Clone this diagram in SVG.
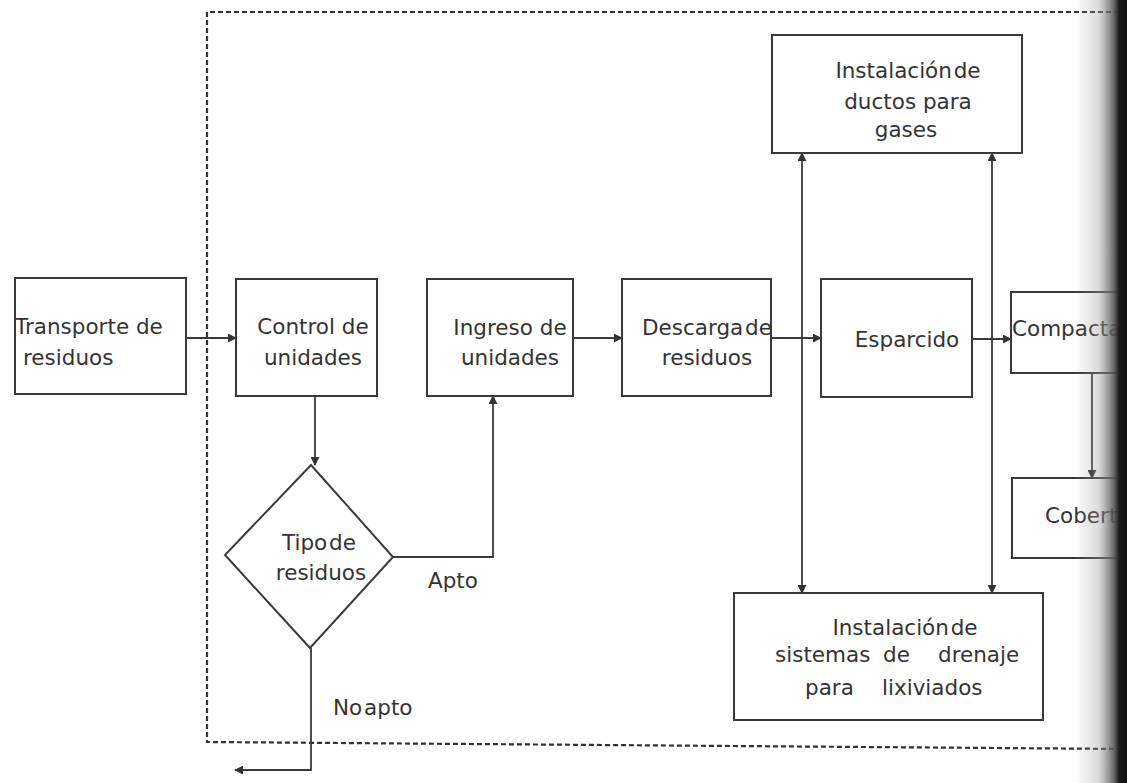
<svg xmlns="http://www.w3.org/2000/svg" width="1127" height="783" viewBox="0 0 1127 783">
<style>
.box{fill:#fff;stroke:#3a3a3a;stroke-width:2}
.t{font-family:"DejaVu Sans",Verdana,sans-serif;font-size:21.5px;fill:#333}
.c{text-anchor:middle}
.ln{fill:none;stroke:#3a3a3a;stroke-width:1.8}
.dash{fill:none;stroke:#333;stroke-width:2.2;stroke-dasharray:5 3}
</style>
<defs>
<marker id="ah" viewBox="0 0 10 10" refX="9" refY="5" markerWidth="9" markerHeight="9" markerUnits="userSpaceOnUse" orient="auto-start-reverse">
<path d="M0,0 L10,5 L0,10 Z" fill="#333"/>
</marker>
<linearGradient id="shade" x1="0" y1="0" x2="1" y2="0">
<stop offset="0" stop-color="#888" stop-opacity="0"/>
<stop offset="0.45" stop-color="#999" stop-opacity="0.35"/>
<stop offset="0.75" stop-color="#555" stop-opacity="0.9"/>
<stop offset="0.85" stop-color="#1a1a1a"/>
<stop offset="1" stop-color="#111"/>
</linearGradient>
</defs>
<rect width="1127" height="783" fill="#fff"/>
<path class="dash" d="M1127,12 H207 V742 L1127,749"/>

<g id="connectors">
<path class="ln" d="M186,338 H236" marker-end="url(#ah)"/>
<path class="ln" d="M315,396 V465" marker-end="url(#ah)"/>
<path class="ln" d="M393,557 H493 V396" marker-end="url(#ah)"/>
<path class="ln" d="M311,648 V770 H235" marker-end="url(#ah)"/>
<path class="ln" d="M573,338 H622" marker-end="url(#ah)"/>
<path class="ln" d="M771,338 H821" marker-end="url(#ah)"/>
<path class="ln" d="M972,339 H1011" marker-end="url(#ah)"/>
<path class="ln" d="M802,153 V593" marker-start="url(#ah)" marker-end="url(#ah)"/>
<path class="ln" d="M992,153 V593" marker-start="url(#ah)" marker-end="url(#ah)"/>
<path class="ln" d="M1092,373 V478" marker-end="url(#ah)"/>
<text class="t" x="428" y="588">Apto</text>
<text class="t" x="333" y="715" word-spacing="-5">No apto</text>
</g>

<g id="transporte">
<rect class="box" x="15" y="278" width="171" height="116"/>
<text class="t" x="15" y="334">Transporte de</text>
<text class="t" x="23" y="365">residuos</text>
</g>
<g id="control">
<rect class="box" x="236" y="279" width="141" height="117"/>
<text class="t c" x="313" y="334">Control de</text>
<text class="t c" x="313" y="365">unidades</text>
</g>
<g id="tipo">
<path class="box" d="M311,465 L393,557 L310,648 L225,555 Z"/>
<text class="t c" x="319" y="550" word-spacing="-5">Tipo de</text>
<text class="t c" x="321" y="580">residuos</text>
</g>
<g id="ingreso">
<rect class="box" x="427" y="279" width="146" height="117"/>
<text class="t c" x="510" y="335">Ingreso de</text>
<text class="t c" x="510" y="365">unidades</text>
</g>
<g id="descarga">
<rect class="box" x="622" y="279" width="149" height="117"/>
<text class="t c" x="707" y="335" word-spacing="-5">Descarga de</text>
<text class="t c" x="707" y="365">residuos</text>
</g>
<g id="gases">
<rect class="box" x="772" y="35" width="250" height="118"/>
<text class="t c" x="908" y="78" word-spacing="-5">Instalación de</text>
<text class="t c" x="908" y="109">ductos para</text>
<text class="t c" x="906" y="137">gases</text>
</g>
<g id="esparcido">
<rect class="box" x="821" y="279" width="151" height="118"/>
<text class="t c" x="907" y="347">Esparcido</text>
</g>
<g id="compactado">
<rect class="box" x="1011" y="292" width="140" height="81"/>
<text class="t" x="1012" y="336">Compactado</text>
</g>
<g id="cobertura">
<rect class="box" x="1012" y="478" width="140" height="80"/>
<text class="t" x="1045" y="523">Cobertura</text>
</g>
<g id="drenaje">
<rect class="box" x="734" y="593" width="309" height="127"/>
<text class="t c" x="905" y="635" word-spacing="-5">Instalación de</text>
<text class="t" x="775" y="662">sistemas</text>
<text class="t" x="883" y="662">de</text>
<text class="t" x="938" y="662">drenaje</text>
<text class="t" x="805" y="695">para</text>
<text class="t" x="882" y="695">lixiviados</text>
</g>
<rect x="1075" y="0" width="52" height="783" fill="url(#shade)"/>
</svg>
